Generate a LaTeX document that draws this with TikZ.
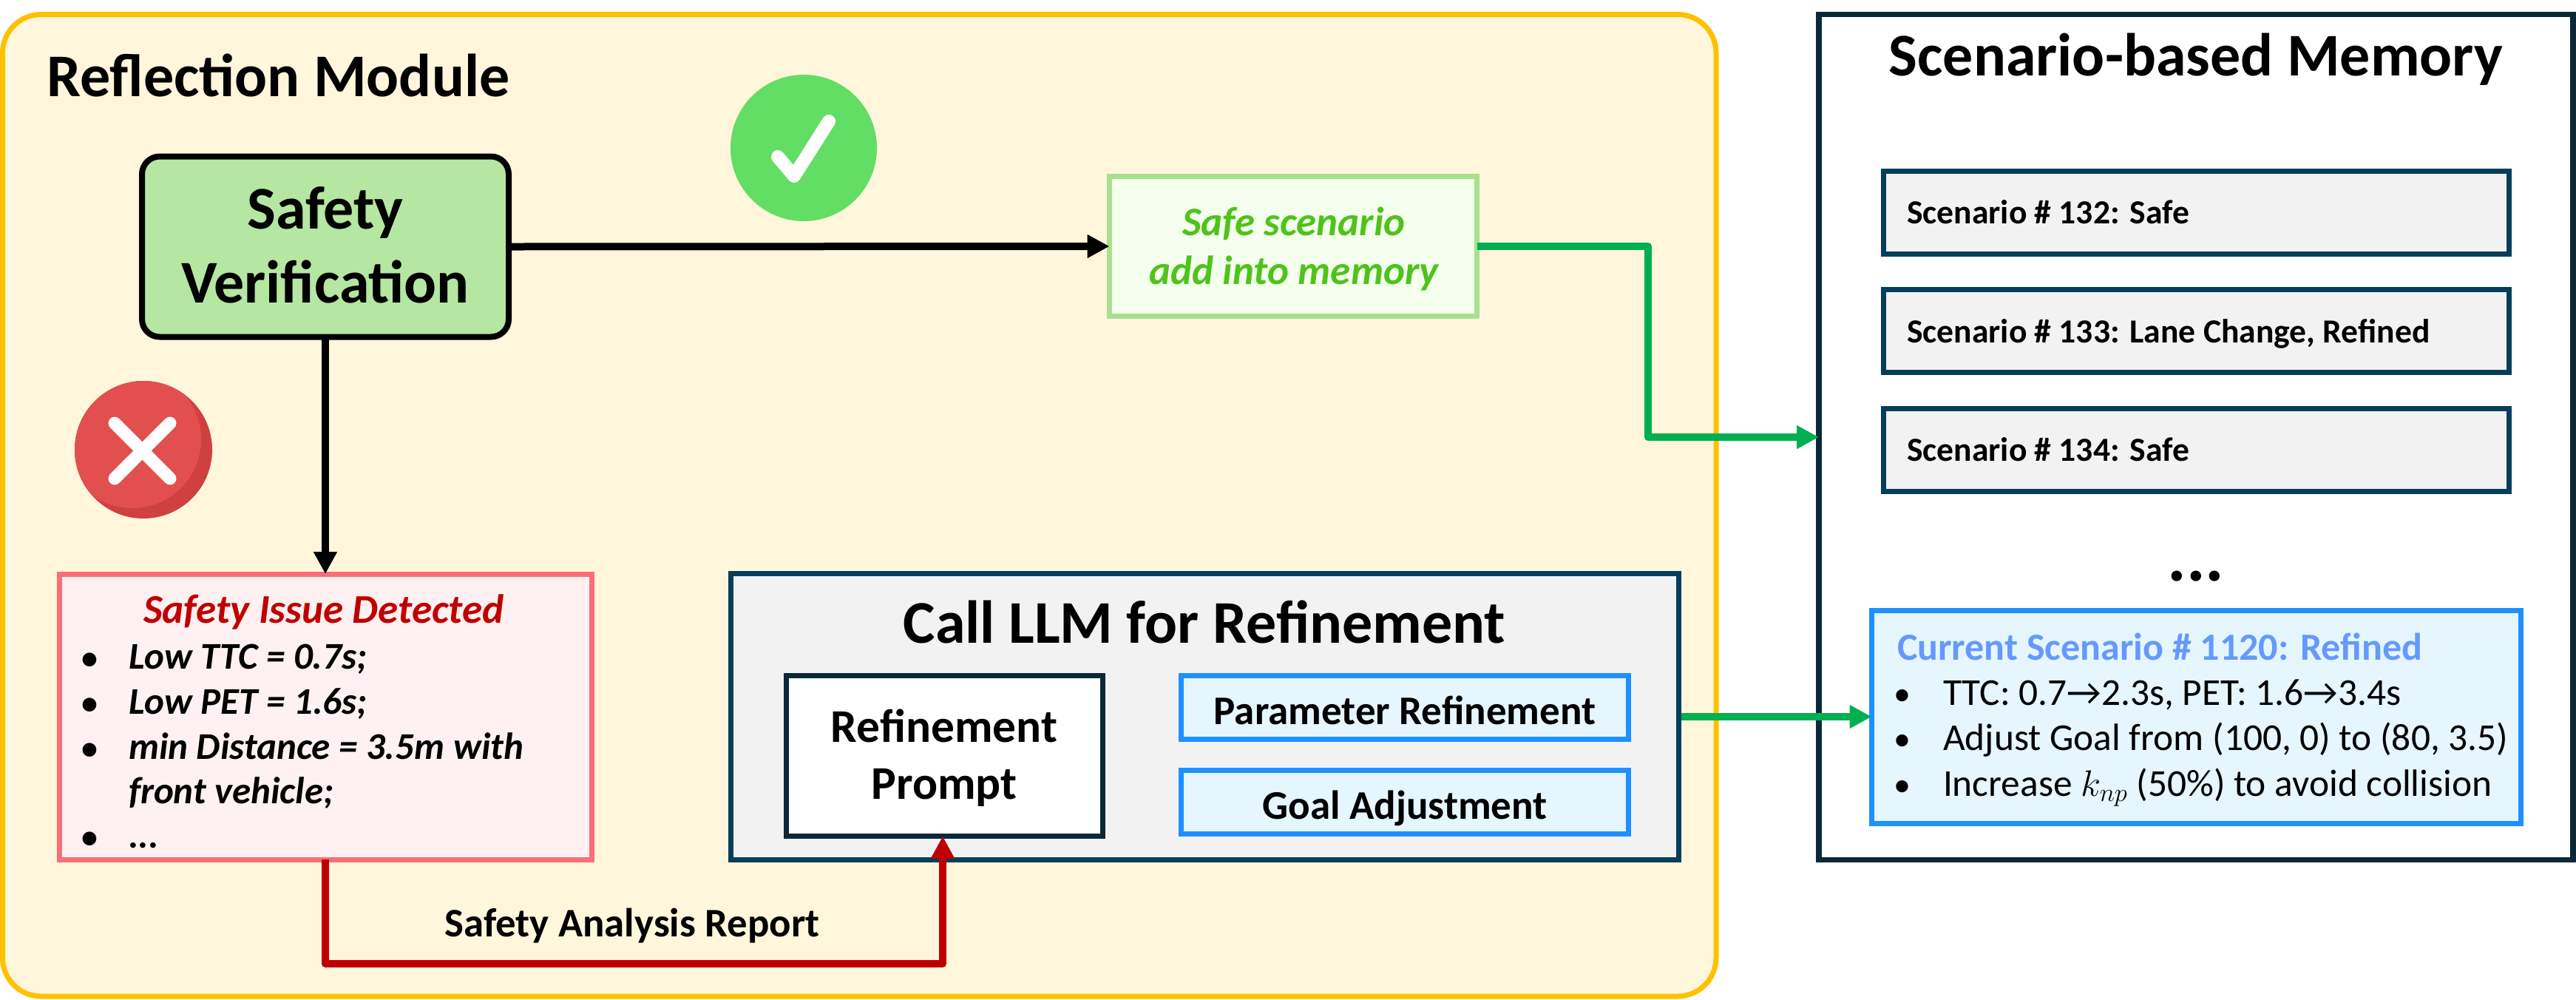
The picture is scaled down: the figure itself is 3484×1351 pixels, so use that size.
\documentclass[tikz,border=0pt]{standalone}
\usepackage{fontspec}
\setmainfont{Carlito}
\usetikzlibrary{arrows.meta}
\definecolor{framebd}{HTML}{FFC000}
\definecolor{framefill}{HTML}{FFF6DC}
\definecolor{verfill}{HTML}{B5E6A2}
\definecolor{okcircle}{HTML}{62DE65}
\definecolor{nocircle}{HTML}{E34F4F}
\definecolor{nodark}{HTML}{CF4040}
\definecolor{safebd}{HTML}{A9E08E}
\definecolor{safefill}{HTML}{F4FFEE}
\definecolor{safetxt}{HTML}{4FC31A}
\definecolor{issuebd}{HTML}{FA6E78}
\definecolor{issuefill}{HTML}{FFF1F1}
\definecolor{darkred}{HTML}{C00000}
\definecolor{teal}{HTML}{043E5A}
\definecolor{navy}{HTML}{0A2838}
\definecolor{greyfill}{HTML}{F2F2F2}
\definecolor{bluebd}{HTML}{1E90FF}
\definecolor{bluefill}{HTML}{E5F6FF}
\definecolor{bluetxt}{HTML}{6699FF}
\definecolor{conngreen}{HTML}{00B050}
\newcommand{\pxbox}[7][]{%
  \node[#6,#1,minimum width={(#4-#2)*0.5pt},minimum height={(#5-#3)*0.5pt}] (#7)
    at ({(#2+#4)/2},{(#3+#5)/2}) {};}
\tikzset{
  x=0.5pt,y=-0.5pt,
  every node/.style={inner sep=0pt,outer sep=0pt,text=black},
  plainbox/.style={draw,rectangle,line width=3.5pt},
  framebox/.style={plainbox,draw=framebd,fill=framefill,rounded corners=26pt},
  verifbox/.style={plainbox,draw=black,line width=4pt,fill=verfill,rounded corners=12pt},
  safebox/.style={plainbox,draw=safebd,fill=safefill},
  issuebox/.style={plainbox,draw=issuebd,fill=issuefill},
  tealbox/.style={plainbox,draw=teal,fill=greyfill},
  navybox/.style={plainbox,draw=navy,fill=white},
  bluebox/.style={plainbox,draw=bluebd,fill=bluefill},
  conn/.style={line width=5pt,line join=round,-{Triangle[length=15pt,width=15pt]}},
  ctext/.style={font=\fontsize{#1}{#1}\selectfont,anchor=base},
  ltext/.style={font=\fontsize{#1}{#1}\selectfont,anchor=base west},
  ctextb/.style={font=\fontsize{#1}{#1}\selectfont\bfseries,anchor=base},
  ltextb/.style={font=\fontsize{#1}{#1}\selectfont\bfseries,anchor=base west},
  ctextbi/.style={font=\fontsize{#1}{#1}\selectfont\bfseries\itshape,anchor=base},
  ltextbi/.style={font=\fontsize{#1}{#1}\selectfont\bfseries\itshape,anchor=base west},
}
\begin{document}
\begin{tikzpicture}
\useasboundingbox (0,0) rectangle (3484,1351);
% containers
\pxbox{3.5}{19.5}{2321}{1347}{framebox}{frame}
\pxbox{2460}{19.5}{3480}{1162.5}{navybox,line width=3.75pt}{memory}
% left module boxes
\pxbox{192}{211.5}{688}{455.5}{verifbox}{verif}
\pxbox{1500.5}{238.5}{1997.5}{427.5}{safebox}{safe}
\pxbox{80}{776}{800}{1162}{issuebox}{issue}
\pxbox{988.5}{775.5}{2270}{1162.5}{tealbox}{llm}
\pxbox{1063.5}{913.5}{1491}{1130.5}{navybox}{prompt}
\pxbox{1597.5}{913.5}{2202.5}{999.5}{bluebox}{param}
\pxbox{1597.5}{1041.5}{2202.5}{1127.5}{bluebox}{goal}
% memory boxes
\pxbox{2547.5}{231.5}{3393.5}{343.5}{tealbox}{s132}
\pxbox{2547.5}{391.5}{3393.5}{503.5}{tealbox}{s133}
\pxbox{2547.5}{552}{3393.5}{664}{tealbox}{s134}
\pxbox{2531.5}{825.5}{3409.5}{1113.5}{bluebox}{current}
% check icon
\node[circle,fill=okcircle,minimum size=99pt] (okicon) at (1087,200) {};
\draw[white,line width=9pt,line cap=round,line join=round] (1052,212) -- (1074,238) -- (1121,164);
% cross icon
\node[circle,fill=nodark,minimum size=93pt] (noicon) at (194,608) {};
\begin{scope}
\clip (194,608) circle[radius=93];
\fill[nocircle] (179,594) circle[radius=93];
\end{scope}
\draw[white,line width=8.5pt,line cap=round] (155,572) -- (230,647) (230,572) -- (155,647);
% connectors
\draw[conn,black] (verif.east) -- (safe.west);
\draw[conn,black] (verif.south) -- (issue.north);
\coordinate (gbend) at (2229,591);
\draw[conn,conngreen] (safe.east) -| (gbend) -- (memory.west |- gbend);
\draw[conn,conngreen,shorten <=2pt] (llm.east) -- (llm.east -| current.west);
\coordinate (rbend) at (1275,1303);
\draw[conn,darkred] (issue.south) |- (rbend) -- (prompt.south -| rbend);
% texts
\node[ltextb=41pt] (t1) at (63,130) {Reflection Module};
\node[ctextb=41pt] (t2) at (440,309) {Safety};
\node[ctextb=41pt] (t3) at (440,409) {Verification};
\node[ctextbi=27.5pt,text=safetxt] (t4) at (1750,318) {Safe scenario};
\node[ctextbi=27.5pt,text=safetxt] (t5) at (1750,384) {add into memory};
\node[ctextbi=27.6pt,text=darkred] (t6) at (438,842) {Safety Issue Detected};
\foreach \yy/\tt [count=\i] in {904/{Low TTC = 0.7s;},965/{Low PET = 1.6s;},1026/{min Distance = 3.5m with},1146/{...}}{
  \node[ltextbi=25.5pt] (il\i) at (174,\yy) {\tt};
  \node[ctextb=22pt] (ib\i) at (121,\yy) {•};
}
\node[ltextbi=25.5pt] (il5) at (174,1086) {front vehicle;};
\node[ctextb=41pt] (t7) at (1629,869) {Call LLM for Refinement};
\node[ctextb=31.7pt] (t8) at (1277,1003) {Refinement};
\node[ctextb=31.7pt] (t9) at (1277,1080) {Prompt};
\node[ctextb=27.5pt] (t10) at (1900,979) {Parameter Refinement};
\node[ctextb=27.5pt] (t11) at (1900,1107) {Goal Adjustment};
\node[ctextb=27.4pt] (t12) at (855,1266) {Safety Analysis Report};
\node[ctextb=41pt] (t13) at (2970,102) {Scenario-based Memory};
\node[ltextb=22.8pt] (t14) at (2579,302) {Scenario \# 132: Safe};
\node[ltextb=22.8pt] (t15) at (2579,463) {Scenario \# 133: Lane Change, Refined};
\node[ltextb=22.8pt] (t16) at (2579,623) {Scenario \# 134: Safe};
\node[ctextb=48pt] (t17) at (2970,785) {...};
\node[ltextb=26pt,text=bluetxt] (t18) at (2566,892) {Current Scenario \# 1120: Refined};
\foreach \yy/\tt [count=\i] in {953/{TTC: 0.7→2.3s, PET: 1.6→3.4s},1014/{Adjust Goal from (100, 0) to (80, 3.5)},1076/{Increase $k_{np}$ (50\%) to avoid collision}}{
  \node[ltext=25.7pt] (cl\i) at (2628,\yy) {\tt};
  \node[ctext=23pt] (cb\i) at (2573,\yy) {•};
}
\end{tikzpicture}
\end{document}
